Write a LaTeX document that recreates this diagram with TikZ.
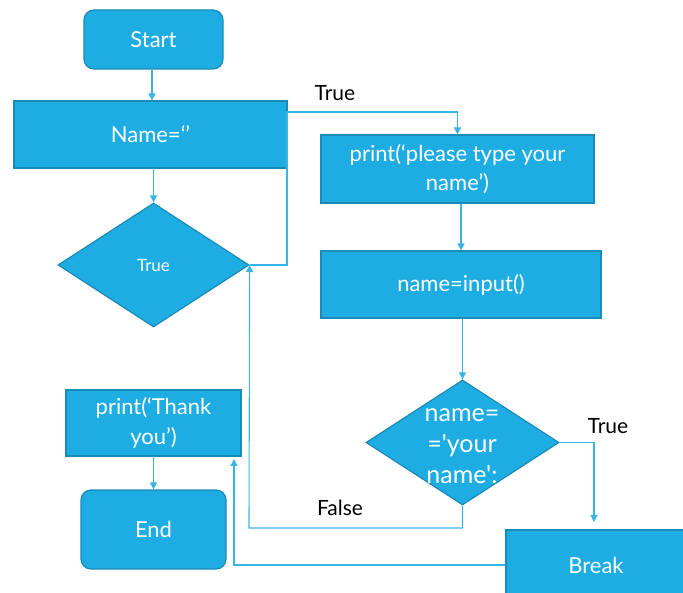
\documentclass[tikz,border=0pt]{standalone}
\usepackage{fontspec}
\setmainfont{Lato}[Ligatures=TeXOff]
\usetikzlibrary{shapes.geometric,arrows.meta}
\definecolor{boxfill}{HTML}{1EADE3}
\definecolor{boxline}{HTML}{1A8AB6}
\definecolor{conn}{HTML}{3AB4E4}
\tikzset{
  box/.style={draw=boxline, line width=1.2pt, fill=boxfill, text=white, inner sep=0pt, align=center, font=\fontsize{22}{29.5}\selectfont},
  rbox/.style={box, rounded corners=10pt},
  dia/.style={diamond, draw=boxline, line width=1.2pt, fill=boxfill, inner sep=0pt},
  wtxt/.style={text=white, align=center, inner sep=0pt},
  btxt/.style={text=black, inner sep=0pt, font=\fontsize{21}{24}\selectfont},
  arr/.style={draw=conn, line width=1.1pt, -{Triangle[width=7pt,length=7pt]}},
  ln/.style={draw=conn, line width=1.1pt}
}
\begin{document}
\begin{tikzpicture}[x=1pt,y=-1pt]
\useasboundingbox (0,0) rectangle (683,593);
\node[rbox, minimum width=139pt, minimum height=59pt] (start) at (153.5,39.5) {Start};
\node[box, minimum width=273pt, minimum height=67pt] (name) at (150.5,134.5) {Name=‘’};
\node[dia, minimum width=191pt, minimum height=124pt] (d1) at (153.5,265) {};
\node[wtxt, font=\fontsize{17}{20}\selectfont] (d1t) at (d1) {True};
\node[box, minimum width=273pt, minimum height=68pt] (print) at (457.5,169) {print(‘please type your\\name’)};
\node[box, minimum width=280pt, minimum height=67pt] (input) at (461,284.5) {name=input()};
\node[dia, minimum width=193pt, minimum height=125pt] (d2) at (462.5,442.5) {};
\node[wtxt, font=\fontsize{25}{31}\selectfont] (d2t) at (462,446) {name=\\='your\\name':};
\node[box, minimum width=180pt, minimum height=70pt] (brk) at (596,565) {Break};
\node[box, minimum width=175pt, minimum height=66pt] (thank) at (153.5,423) {print(‘Thank\\you’)};
\node[rbox, minimum width=145pt, minimum height=79pt] (end) at (153.5,529.5) {End};
\node[btxt] (lt1) at (335,93) {True};
\node[btxt] (lt2) at (608,426) {True};
\node[btxt] (lf) at (340,508) {False};
\coordinate (c1) at (287,112);
\coordinate (bt) at (594,522);
\coordinate (f1) at (249,528);
\coordinate (b1) at (234,459);
\draw[arr] (start.south -| 152,0) -- (name.north -| 152,0);
\draw[arr] (name.south -| d1.north) -- (d1.north);
\draw[arr] (d1.east) -| (c1) -| (print.north);
\draw[arr] (print.south -| input.north) -- (input.north);
\draw[arr] (input.south -| d2.north) -- (d2.north);
\draw[arr] (d2.east) -| (bt);
\draw[arr] (d2.south) |- (f1) -- (d1.east);
\draw[arr] (brk.west) -| (b1);
\draw[arr] (thank.south) -- (end.north);
\end{tikzpicture}
\end{document}
